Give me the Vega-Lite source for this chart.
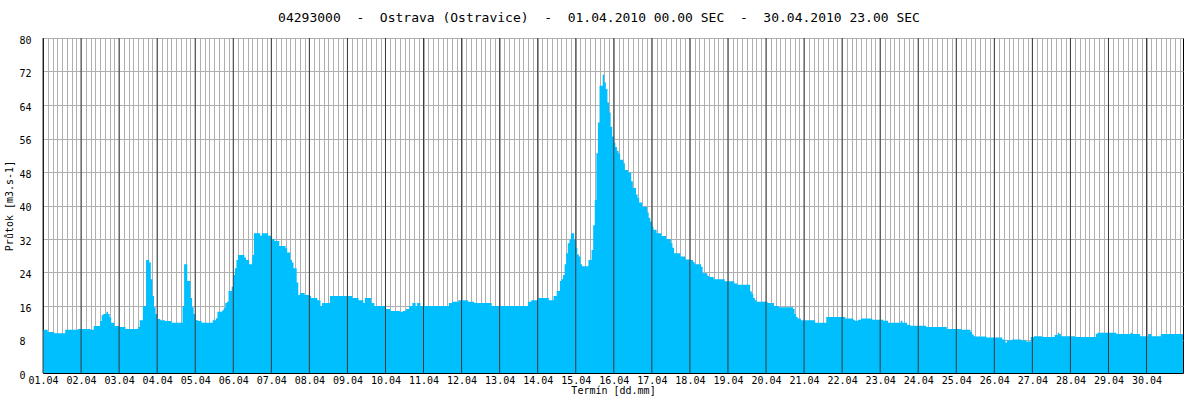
{
  "$schema": "https://vega.github.io/schema/vega-lite/v6.json",
  "width": 1140,
  "height": 335,
  "autosize": {"type": "none"},
  "padding": {"left": 43, "top": 38, "right": 9, "bottom": 23},
  "background": "white",
  "config": {"view": {"stroke": "black", "strokeWidth": 1}, "font": "DejaVu Sans Mono"},
  "title": {
    "text": "04293000\u00a0\u00a0-\u00a0\u00a0Ostrava (Ostravice)\u00a0\u00a0-\u00a0\u00a001.04.2010 00.00 SEC\u00a0\u00a0-\u00a0\u00a030.04.2010 23.00 SEC",
    "font": "DejaVu Sans Mono", "fontSize": 13, "fontWeight": "normal", "color": "black",
    "anchor": "middle", "offset": 10, "dx": -14
  },
  "datasets": {
    "flow": [
    {"t":"2010-04-01T00:00","q":10.3},{"t":"2010-04-01T03:00","q":9.8},{"t":"2010-04-01T07:00","q":9.5},{"t":"2010-04-01T14:00","q":10.3},{"t":"2010-04-01T22:00","q":10.5},
    {"t":"2010-04-02T06:00","q":10.3},{"t":"2010-04-02T08:00","q":11.2},{"t":"2010-04-02T12:00","q":12.4},{"t":"2010-04-02T13:00","q":13.8},{"t":"2010-04-02T14:00","q":14.1},{"t":"2010-04-02T16:00","q":14.6},{"t":"2010-04-02T17:00","q":14.1},{"t":"2010-04-02T18:00","q":13.3},{"t":"2010-04-02T19:00","q":12.0},{"t":"2010-04-02T21:00","q":11.2},
    {"t":"2010-04-03T00:00","q":11.0},{"t":"2010-04-03T04:00","q":10.5},{"t":"2010-04-03T12:00","q":11.0},{"t":"2010-04-03T13:00","q":12.6},{"t":"2010-04-03T15:00","q":16.0},{"t":"2010-04-03T17:00","q":27.0},{"t":"2010-04-03T19:00","q":26.4},{"t":"2010-04-03T20:00","q":22.4},{"t":"2010-04-03T21:00","q":18.4},{"t":"2010-04-03T22:00","q":15.7},{"t":"2010-04-03T23:00","q":14.1},
    {"t":"2010-04-04T00:00","q":12.9},{"t":"2010-04-04T02:00","q":12.6},{"t":"2010-04-04T05:00","q":12.4},{"t":"2010-04-04T09:00","q":12.0},{"t":"2010-04-04T16:00","q":16.0},{"t":"2010-04-04T17:00","q":26.0},{"t":"2010-04-04T19:00","q":22.0},{"t":"2010-04-04T21:00","q":17.9},{"t":"2010-04-04T22:00","q":15.7},{"t":"2010-04-04T23:00","q":14.1},
    {"t":"2010-04-05T00:00","q":12.6},{"t":"2010-04-05T02:00","q":12.4},{"t":"2010-04-05T04:00","q":12.0},{"t":"2010-04-05T11:00","q":12.6},{"t":"2010-04-05T13:00","q":13.1},{"t":"2010-04-05T14:00","q":14.6},{"t":"2010-04-05T17:00","q":15.0},{"t":"2010-04-05T18:00","q":15.5},{"t":"2010-04-05T19:00","q":16.7},{"t":"2010-04-05T20:00","q":17.0},{"t":"2010-04-05T21:00","q":19.6},{"t":"2010-04-05T23:00","q":20.6},
    {"t":"2010-04-06T00:00","q":23.4},{"t":"2010-04-06T01:00","q":25.0},{"t":"2010-04-06T02:00","q":27.0},{"t":"2010-04-06T03:00","q":28.2},{"t":"2010-04-06T07:00","q":27.6},{"t":"2010-04-06T08:00","q":27.0},{"t":"2010-04-06T10:00","q":26.0},{"t":"2010-04-06T12:00","q":28.2},{"t":"2010-04-06T13:00","q":33.4},{"t":"2010-04-06T17:00","q":32.8},{"t":"2010-04-06T18:00","q":33.4},{"t":"2010-04-06T22:00","q":32.8},
    {"t":"2010-04-07T00:00","q":32.0},{"t":"2010-04-07T02:00","q":31.5},{"t":"2010-04-07T05:00","q":30.3},{"t":"2010-04-07T09:00","q":29.8},{"t":"2010-04-07T10:00","q":28.8},{"t":"2010-04-07T12:00","q":27.0},{"t":"2010-04-07T13:00","q":26.4},{"t":"2010-04-07T14:00","q":25.0},{"t":"2010-04-07T16:00","q":21.6},{"t":"2010-04-07T17:00","q":18.6},{"t":"2010-04-07T18:00","q":19.1},{"t":"2010-04-07T21:00","q":18.6},
    {"t":"2010-04-08T00:00","q":18.4},{"t":"2010-04-08T01:00","q":17.9},{"t":"2010-04-08T05:00","q":17.4},{"t":"2010-04-08T07:00","q":16.0},{"t":"2010-04-08T08:00","q":16.7},{"t":"2010-04-08T13:00","q":18.4},
    {"t":"2010-04-09T03:00","q":17.9},{"t":"2010-04-09T07:00","q":17.4},{"t":"2010-04-09T10:00","q":16.7},{"t":"2010-04-09T11:00","q":17.9},{"t":"2010-04-09T15:00","q":16.7},{"t":"2010-04-09T17:00","q":16.0},
    {"t":"2010-04-10T00:00","q":15.3},{"t":"2010-04-10T03:00","q":14.8},{"t":"2010-04-10T09:00","q":14.6},{"t":"2010-04-10T11:00","q":14.8},{"t":"2010-04-10T13:00","q":15.3},{"t":"2010-04-10T15:00","q":16.0},{"t":"2010-04-10T17:00","q":16.7},{"t":"2010-04-10T19:00","q":16.0},{"t":"2010-04-10T20:00","q":16.7},{"t":"2010-04-10T22:00","q":16.0},
    {"t":"2010-04-11T16:00","q":16.7},{"t":"2010-04-11T18:00","q":17.0},{"t":"2010-04-11T22:00","q":17.4},
    {"t":"2010-04-12T04:00","q":17.0},{"t":"2010-04-12T08:00","q":16.7},{"t":"2010-04-12T19:00","q":16.0},
    {"t":"2010-04-13T18:00","q":17.0},{"t":"2010-04-13T20:00","q":17.4},
    {"t":"2010-04-14T00:00","q":17.9},{"t":"2010-04-14T07:00","q":17.4},{"t":"2010-04-14T10:00","q":18.4},{"t":"2010-04-14T12:00","q":19.6},{"t":"2010-04-14T14:00","q":22.0},{"t":"2010-04-14T15:00","q":22.4},{"t":"2010-04-14T16:00","q":23.4},{"t":"2010-04-14T17:00","q":26.0},{"t":"2010-04-14T18:00","q":28.6},{"t":"2010-04-14T19:00","q":31.0},{"t":"2010-04-14T20:00","q":31.9},{"t":"2010-04-14T21:00","q":33.4},{"t":"2010-04-14T23:00","q":31.9},
    {"t":"2010-04-15T00:00","q":29.9},{"t":"2010-04-15T01:00","q":28.3},{"t":"2010-04-15T02:00","q":27.8},{"t":"2010-04-15T03:00","q":26.0},{"t":"2010-04-15T04:00","q":25.5},{"t":"2010-04-15T08:00","q":27.0},{"t":"2010-04-15T10:00","q":29.4},{"t":"2010-04-15T11:00","q":35.3},{"t":"2010-04-15T12:00","q":41.3},{"t":"2010-04-15T13:00","q":52.5},{"t":"2010-04-15T14:00","q":59.8},{"t":"2010-04-15T15:00","q":68.6},{"t":"2010-04-15T17:00","q":71.2},{"t":"2010-04-15T18:00","q":69.4},{"t":"2010-04-15T19:00","q":67.8},{"t":"2010-04-15T20:00","q":64.6},{"t":"2010-04-15T21:00","q":62.2},{"t":"2010-04-15T22:00","q":58.8},{"t":"2010-04-15T23:00","q":56.5},
    {"t":"2010-04-16T00:00","q":55.0},{"t":"2010-04-16T01:00","q":54.0},{"t":"2010-04-16T02:00","q":53.0},{"t":"2010-04-16T03:00","q":52.4},{"t":"2010-04-16T04:00","q":50.9},{"t":"2010-04-16T06:00","q":50.1},{"t":"2010-04-16T07:00","q":48.5},{"t":"2010-04-16T09:00","q":47.9},{"t":"2010-04-16T11:00","q":45.8},{"t":"2010-04-16T12:00","q":44.2},{"t":"2010-04-16T14:00","q":42.6},{"t":"2010-04-16T15:00","q":41.8},{"t":"2010-04-16T16:00","q":40.7},{"t":"2010-04-16T18:00","q":39.7},{"t":"2010-04-16T21:00","q":38.3},{"t":"2010-04-16T22:00","q":37.1},{"t":"2010-04-16T23:00","q":36.2},
    {"t":"2010-04-17T00:00","q":35.0},{"t":"2010-04-17T01:00","q":34.2},{"t":"2010-04-17T03:00","q":33.4},{"t":"2010-04-17T06:00","q":32.7},{"t":"2010-04-17T09:00","q":32.0},{"t":"2010-04-17T12:00","q":31.0},{"t":"2010-04-17T13:00","q":29.9},{"t":"2010-04-17T14:00","q":28.6},{"t":"2010-04-17T18:00","q":27.8},{"t":"2010-04-17T21:00","q":27.1},
    {"t":"2010-04-18T00:00","q":27.0},{"t":"2010-04-18T02:00","q":26.5},{"t":"2010-04-18T03:00","q":26.0},{"t":"2010-04-18T07:00","q":25.4},{"t":"2010-04-18T08:00","q":23.8},{"t":"2010-04-18T11:00","q":23.2},{"t":"2010-04-18T12:00","q":22.9},{"t":"2010-04-18T15:00","q":22.4},{"t":"2010-04-18T22:00","q":21.9},
    {"t":"2010-04-19T04:00","q":21.4},{"t":"2010-04-19T06:00","q":21.1},{"t":"2010-04-19T14:00","q":19.5},{"t":"2010-04-19T15:00","q":18.9},{"t":"2010-04-19T16:00","q":17.9},{"t":"2010-04-19T17:00","q":17.4},{"t":"2010-04-19T18:00","q":17.0},
    {"t":"2010-04-20T01:00","q":16.7},{"t":"2010-04-20T05:00","q":16.0},{"t":"2010-04-20T08:00","q":15.7},{"t":"2010-04-20T17:00","q":15.3},{"t":"2010-04-20T18:00","q":14.1},{"t":"2010-04-20T19:00","q":13.4},{"t":"2010-04-20T20:00","q":13.0},{"t":"2010-04-20T22:00","q":12.6},
    {"t":"2010-04-21T07:00","q":12.0},{"t":"2010-04-21T14:00","q":13.4},
    {"t":"2010-04-22T02:00","q":13.0},{"t":"2010-04-22T07:00","q":12.7},{"t":"2010-04-22T08:00","q":12.5},{"t":"2010-04-22T10:00","q":12.7},{"t":"2010-04-22T12:00","q":13.0},{"t":"2010-04-22T19:00","q":12.7},
    {"t":"2010-04-23T02:00","q":12.5},{"t":"2010-04-23T05:00","q":12.0},{"t":"2010-04-23T13:00","q":12.5},{"t":"2010-04-23T14:00","q":12.0},{"t":"2010-04-23T17:00","q":11.5},{"t":"2010-04-23T19:00","q":11.3},
    {"t":"2010-04-24T05:00","q":11.0},{"t":"2010-04-24T18:00","q":10.5},
    {"t":"2010-04-25T03:00","q":10.3},{"t":"2010-04-25T09:00","q":9.8},{"t":"2010-04-25T10:00","q":9.2},{"t":"2010-04-25T11:00","q":8.8},{"t":"2010-04-25T12:00","q":8.7},{"t":"2010-04-25T19:00","q":8.5},
    {"t":"2010-04-26T05:00","q":8.0},{"t":"2010-04-26T07:00","q":7.3},{"t":"2010-04-26T08:00","q":7.8},{"t":"2010-04-26T11:00","q":8.0},{"t":"2010-04-26T17:00","q":7.8},{"t":"2010-04-26T20:00","q":7.5},{"t":"2010-04-26T23:00","q":8.6},
    {"t":"2010-04-27T01:00","q":8.8},{"t":"2010-04-27T06:00","q":8.6},{"t":"2010-04-27T14:00","q":9.1},{"t":"2010-04-27T16:00","q":9.6},{"t":"2010-04-27T17:00","q":9.3},{"t":"2010-04-27T18:00","q":8.8},
    {"t":"2010-04-28T03:00","q":8.6},{"t":"2010-04-28T16:00","q":9.3},{"t":"2010-04-28T17:00","q":9.6},
    {"t":"2010-04-29T05:00","q":9.3},{"t":"2010-04-29T14:00","q":9.6},{"t":"2010-04-29T15:00","q":9.3},{"t":"2010-04-29T20:00","q":8.8},
    {"t":"2010-04-30T01:00","q":9.3},{"t":"2010-04-30T03:00","q":8.8},{"t":"2010-04-30T09:00","q":9.3},{"t":"2010-04-30T23:00","q":9.3}
    ],
    "days": [
      {"d":"2010-04-01T00:00"},{"d":"2010-04-02T00:00"},{"d":"2010-04-03T00:00"},{"d":"2010-04-04T00:00"},{"d":"2010-04-05T00:00"},
      {"d":"2010-04-06T00:00"},{"d":"2010-04-07T00:00"},{"d":"2010-04-08T00:00"},{"d":"2010-04-09T00:00"},{"d":"2010-04-10T00:00"},
      {"d":"2010-04-11T00:00"},{"d":"2010-04-12T00:00"},{"d":"2010-04-13T00:00"},{"d":"2010-04-14T00:00"},{"d":"2010-04-15T00:00"},
      {"d":"2010-04-16T00:00"},{"d":"2010-04-17T00:00"},{"d":"2010-04-18T00:00"},{"d":"2010-04-19T00:00"},{"d":"2010-04-20T00:00"},
      {"d":"2010-04-21T00:00"},{"d":"2010-04-22T00:00"},{"d":"2010-04-23T00:00"},{"d":"2010-04-24T00:00"},{"d":"2010-04-25T00:00"},
      {"d":"2010-04-26T00:00"},{"d":"2010-04-27T00:00"},{"d":"2010-04-28T00:00"},{"d":"2010-04-29T00:00"},{"d":"2010-04-30T00:00"}
    ]
  },
  "layer": [
    {
      "data": {"name": "flow"},
      "mark": {"type": "area", "interpolate": "step-after", "color": "#00BFFF"},
      "encoding": {
        "x": {
          "field": "t", "type": "temporal",
          "scale": {"nice": false},
          "axis": {
            "title": "Termín [dd.mm]",
            "tickCount": 240,
            "labelExpr": "hours(datum.value) == 0 ? timeFormat(datum.value, '%d.%m') : ''",
            "ticks": false, "tickSize": 0, "labelPadding": 2,
            "labelFlush": false, "labelOverlap": false,
            "labelFont": "DejaVu Sans Mono", "labelFontSize": 10, "labelColor": "black",
            "titleFont": "DejaVu Sans Mono", "titleFontSize": 10, "titleFontWeight": "normal", "titleColor": "black", "titlePadding": 0,
            "grid": true, "gridColor": "#b0b0b0", "gridWidth": 1, "gridOpacity": 1,
            "domain": true, "domainColor": "black", "domainWidth": 1
          }
        },
        "y": {
          "field": "q", "type": "quantitative",
          "scale": {"domain": [0, 80], "nice": false},
          "axis": {
            "title": "Průtok [m3.s-1]",
            "values": [0, 8, 16, 24, 32, 40, 48, 56, 64, 72, 80],
            "ticks": false, "tickSize": 0, "labelPadding": 24, "labelAlign": "left", "labelOffset": 2,
            "labelFont": "DejaVu Sans Mono", "labelFontSize": 10, "labelColor": "black",
            "titleFont": "DejaVu Sans Mono", "titleFontSize": 10, "titleFontWeight": "normal", "titleColor": "black", "titlePadding": 5,
            "grid": true, "gridColor": "#b0b0b0", "gridWidth": 1, "gridOpacity": 1,
            "domain": true, "domainColor": "black", "domainWidth": 1
          }
        }
      }
    },
    {
      "data": {"name": "days"},
      "mark": {"type": "rule", "color": "#383838", "strokeWidth": 1},
      "encoding": {
        "x": {"field": "d", "type": "temporal"}
      }
    }
  ]
}
